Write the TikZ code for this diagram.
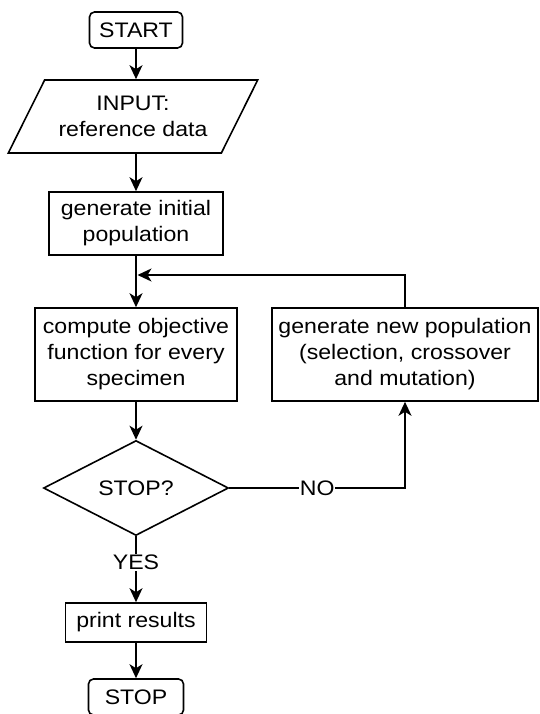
\documentclass[tikz,border=0pt]{standalone}
\usepackage{fontspec}
\setmainfont{Liberation Sans}[FakeStretch=1.1]
\usetikzlibrary{shapes.geometric,arrows.meta,calc}
\begin{document}
\begin{tikzpicture}[x=1pt,y=-1pt,
  lw/.style={line width=1.6pt},
  box/.style={draw, lw, align=center, inner sep=0pt, font=\fontsize{21}{26}\selectfont},
  term/.style={box, rounded corners=5pt},
  arr/.style={lw, -{Stealth[length=14pt,width=13pt,inset=4pt]}},
  lbl/.style={fill=white, inner sep=1pt, font=\fontsize{21}{26}\selectfont}]
\useasboundingbox (0,0) rectangle (539,714);
\clip (0,0) rectangle (539,714);
\node[term, minimum width=93, minimum height=36] (start) at (136,30) {START};
\node[box, shape=trapezium, trapezium left angle=53, trapezium right angle=127,
      trapezium stretches=true, minimum width=250, minimum height=73] (input) at (133,116.5) {INPUT:\\reference data};
\node[box, minimum width=174, minimum height=63] (init) at (136,223.5) {generate initial\\population};
\node[box, minimum width=202, minimum height=93] (comp) at (136,354.5) {compute objective\\function for every\\specimen};
\node[box, minimum width=266, minimum height=93] (newpop) at (405,354.5) {generate new population\\(selection, crossover\\and mutation)};
\node[box, shape=diamond, aspect=1.95, minimum width=185, minimum height=95] (dec) at (136,488) {STOP?};
\node[box, minimum width=141, minimum height=39] (print) at (136,622.5) {print results};
\node[term, minimum width=95, minimum height=36] (stop) at (136,697) {STOP};
\coordinate (fb) at (405,275);
\coordinate (fbend) at (137.5,275);
\coordinate (nocorner) at (405,488);

\draw[arr] (start.south) -- (start.south |- input.north);
\draw[arr] (start.south |- input.south) -- (init.north);
\draw[arr] (init.south) -- (comp.north);
\draw[arr] (newpop.north) -- (fb) -- (fbend);
\draw[arr] (comp.south) -- (dec.north);
\draw[arr] (dec.east) -- node[lbl, pos=0.5] {NO} (nocorner) -- (newpop.south);
\draw[arr] (dec.south) -- node[lbl, pos=0.4] {YES} (print.north);
\draw[arr] (print.south) -- (stop.north);
\end{tikzpicture}
\end{document}
